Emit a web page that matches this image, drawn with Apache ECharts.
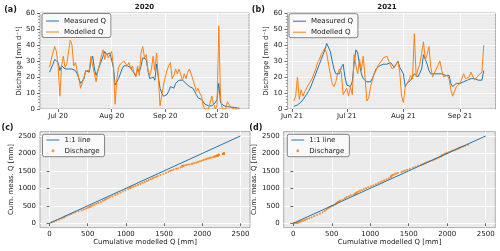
<!DOCTYPE html>
<html><head><meta charset="utf-8">
<script src="https://cdn.jsdelivr.net/npm/echarts@6/dist/echarts.min.js"></script>
<style>html,body{margin:0;padding:0;background:#fff}#c{width:500px;height:251px}</style>
</head><body><div id="c"></div>
<script>
// ---------- data ----------
const start2020 = '2020-06-26';
const measured2020 = [23,22,28,31,31,29,24,27,28,25, 25,25,26,25,26,24,22,19,16,15, 19,24,24,23,30,33,25,21,24,27, 30,33,36,34,35,35,34,26,15,16, 19,22,25,27,27,27,28,26,24,23, 21,25,23,27,32,33,31,24,19,18, 20,18,28,20,13,10,8,8,9,11, 14,14,13,16,17,18,17,18,17,16, 15,14,13,13,11,9,7,7,6,5, 3,2,2,2,2,2,4,6,16,4, 3,2,2,1.5,1.5,1.2,1,1,0.8,0.6,0.5];
const modelled2020 = [26,31,30,39,36,27,8,27,33,26, 28,27,43,40,27,29,24,19,13,14, 20,24,25,24,33,27,22,17,24,28, 33,37,31,35,32,33,36,26,3,19, 26,28,29,30,29,27,29,25,27,22, 20,27,21,35,39,32,34,24,21,25, 33,24,35,20,2,2,15,20,24,27, 29,19,21,25,22,25,25,18,22,19, 23,25,22,21,15,11,13,10,8,2, 0,0,0,0,8,3,0,2,52,7, 0,0,0,4.5,3.5,1,0,0,0,0,0];
const start2021 = '2021-06-02';
const measured2021 = [1.7,2,2.5,3.5,4.5,5.8,7.5,9,11,13, 16,19,22,25,28,31,34,37,41,42, 36,30,25,22,21,22,26,28,20,15, 14,14,17,28,37,35,28,22,19,19, 17,16,17,19,22,25,26,27,28,28, 28,28,28,29,28,26,28,30,26,27, 22,14,16,17,18,20,22,21,20,21, 25,34,31,28,24,22,22,22,22,22, 22,22,21,21,22,21,16,14,14,16, 16,16,17,17,18,18,19,19,19,19, 19,18,18,18,24];
const modelled2021 = [5,8,20,6,12,8,11,10,15,17, 19,22,25,29,31,34,36,38,35,28, 22,16,14,17,22,25,23,9,8,13, 8,14,9,34,27,22,31,24,33,20, 5,7,14,18,22,24,27,28,30,32, 33,33,30,27,25,26,28,30,23,8, 4,14,13,18,21,19,47,20,25,28, 35,42,31,34,39,26,20,20,25,26, 30,24,20,21,21,19,12,8,9,14, 15,16,17,22,19,20,20,23,23,18, 17,21,22,23,40];
const monthTicks2020 = ['2020-07-01','2020-08-01','2020-09-01','2020-10-01'];
const monthTicks2021 = ['2021-06-01','2021-07-01','2021-08-01','2021-09-01'];
const qTicks = [0,10,20,30,40,50,60];
const cumTicks = [0,500,1000,1500,2000,2500];
const oneToOne = [0, 2500];
const seriesNames = ['Measured Q','Modelled Q','1:1 line','Discharge'];
const panelTitles = ['2020','2021'];
const panelLabels = ['(a)','(b)','(c)','(d)'];

// ---------- helpers ----------
const DAY = 86400000;
const FONT = 'DejaVu Sans';
const TXT = '#1a1a1a';
const BLUE = '#1f77b4', ORANGE = '#ff7f0e';
const MON = ['Jan','Feb','Mar','Apr','May','Jun','Jul','Aug','Sep','Oct','Nov','Dec'];
function ts(s){ return Date.parse(s + 'T00:00:00Z'); }
function daily(start, vals){ const t0 = ts(start); return vals.map((v,i)=>[t0 + i*DAY, v]); }
function cumulative(mod, meas){ let a=0,b=0; return mod.map((v,i)=>{ a+=v; b+=meas[i]; return [a,b]; }); }
function fmtMonth(v){ const d=new Date(v); return MON[d.getUTCMonth()] + ' ' + String(d.getUTCFullYear()).slice(2); }
function fmtPlain(v){ return String(Math.round(v)); }

const LINE_ICON = 'path://M0,0M13,3M0,1L13,1L13,2L0,2Z';
const DOT_ICON = 'path://M0,0M13,3M5,1.5A1.5,1.5,0,1,0,8,1.5A1.5,1.5,0,1,0,5,1.5Z';

const grids = [
  {left:40, top:13, width:209, height:96},
  {left:287.5, top:13, width:208, height:96},
  {left:40, top:131.6, width:210, height:96},
  {left:283.7, top:131.6, width:211.6, height:96}
].map(g => Object.assign(g, {show:true, backgroundColor:'#EBEBEB', borderColor:'#9a9a9a', borderWidth:0.8, containLabel:false}));

const tickStyle = {show:true, length:3, lineStyle:{color:'#444', width:0.8}};
const labelStyle = {fontSize:7, color:TXT, fontFamily:FONT};
const split = {show:true, lineStyle:{color:'#ffffff', width:1}};

function timeAxis(gi, ticks, minV, maxV){
  return {type:'value', gridIndex:gi, min: minV, max: maxV, scale:true,
    axisLine:{show:false},
    axisTick:Object.assign({}, tickStyle, {customValues: ticks.map(ts)}),
    axisLabel:Object.assign({}, labelStyle, {customValues: ticks.map(ts), formatter: fmtMonth, margin:4}),
    splitLine: split};
}
function qAxis(gi, gap){
  return {type:'value', gridIndex:gi, min:qTicks[0], max:qTicks[qTicks.length-1], interval:10,
    name:'Discharge [mm d⁻¹]', nameLocation:'middle', nameGap:gap,
    nameTextStyle:{fontSize:7, color:TXT, fontFamily:FONT},
    axisLine:{show:false}, axisTick:tickStyle,
    axisLabel:Object.assign({}, labelStyle, {margin:5, formatter: fmtPlain}),
    splitLine: split,
    minorTick:{show:true, splitNumber:5, length:1.8, lineStyle:{color:'#555', width:0.6}},
    minorSplitLine:{show:true, lineStyle:{color:'#f3f3f3', width:0.5}}};
}
function cumAxis(gi, isX, gap){
  return {type:'value', gridIndex:gi, min:-125, max:2625,
    axisLine:{show:false},
    axisTick:Object.assign({}, tickStyle, {customValues: cumTicks}),
    axisLabel:Object.assign({}, labelStyle, {customValues: cumTicks, margin: isX ? 3 : 4, formatter: fmtPlain}),
    splitLine: split,
    name: isX ? 'Cumulative modelled Q [mm]' : 'Cum. meas. Q [mm]',
    nameLocation:'middle', nameGap:gap,
    nameTextStyle:{fontSize:7, color:TXT, fontFamily:FONT}};
}

function legend(left, top, names, icons, pad, gap){
  return {orient:'vertical', left:left, top:top,
    data: names.map((n,i)=>({name:n, icon:icons[i]})),
    itemWidth:13, itemHeight:3, itemGap:gap, padding:pad,
    textStyle:{fontSize:7, color:TXT, fontFamily:FONT, lineHeight:8},
    backgroundColor:'rgba(250,250,250,0.92)', borderColor:'#666', borderWidth:0.8, borderRadius:2,
    selectedMode:false};
}

function lineSeries(name, xi, data, color){
  return {type:'line', name:name, xAxisIndex:xi, yAxisIndex:xi, data:data,
    symbol:'none', showSymbol:false, lineStyle:{width:1, color:color}, itemStyle:{color:color},
    animation:false, silent:true};
}
function scatterSeries(xi, data){
  return {type:'scatter', name:seriesNames[3], xAxisIndex:xi, yAxisIndex:xi, data:data,
    symbol:'circle', symbolSize:2.2, itemStyle:{color:ORANGE}, animation:false, silent:true};
}

const txt = (x,y,text,size,bold)=>({type:'text', x:x, y:y, silent:true,
  style:{text:text, x:0, y:0, align:'center', verticalAlign:'middle', fill:TXT, font:(bold?'bold ':'')+size+'px "'+FONT+'"'}});

const option = {
  animation:false,
  backgroundColor:'#ffffff',
  grid: grids,
  xAxis: [
    timeAxis(0, monthTicks2020, ts('2020-06-20') + DAY/2, ts('2020-10-19') + DAY/2),
    timeAxis(1, monthTicks2021, ts('2021-05-29') + DAY*0.54, ts('2021-09-20') + DAY*0.44),
    cumAxis(2, true, 10),
    cumAxis(3, true, 10)
  ],
  yAxis: [ qAxis(0, 14), qAxis(1, 17), cumAxis(2, false, 22.5), cumAxis(3, false, 22.5) ],
  legend: [
    legend(42, 13.5, [seriesNames[0], seriesNames[1]], [LINE_ICON, LINE_ICON], [3.5,5,1.5,4], 3),
    legend(289, 13.7, [seriesNames[0], seriesNames[1]], [LINE_ICON, LINE_ICON], [3.5,5,1.5,4], 3),
    legend(42.5, 134.3, [seriesNames[2], seriesNames[3]], [LINE_ICON, DOT_ICON], [1.7,5,2,4], 2.7),
    legend(287.3, 134.3, [seriesNames[2], seriesNames[3]], [LINE_ICON, DOT_ICON], [1.7,5,2,4], 2.7)
  ],
  series: [
    lineSeries(seriesNames[0], 0, daily(start2020, measured2020), BLUE),
    lineSeries(seriesNames[1], 0, daily(start2020, modelled2020), ORANGE),
    lineSeries(seriesNames[0], 1, daily(start2021, measured2021), BLUE),
    lineSeries(seriesNames[1], 1, daily(start2021, modelled2021), ORANGE),
    lineSeries(seriesNames[2], 2, [[oneToOne[0],oneToOne[0]],[oneToOne[1],oneToOne[1]]], BLUE),
    scatterSeries(2, cumulative(modelled2020, measured2020)),
    lineSeries(seriesNames[2], 3, [[oneToOne[0],oneToOne[0]],[oneToOne[1],oneToOne[1]]], BLUE),
    scatterSeries(3, cumulative(modelled2021, measured2021))
  ],
  graphic: [
    txt(144.5, 7, panelTitles[0], 7, true),
    txt(387, 7, panelTitles[1], 7, true),
    txt(10.5, 10, panelLabels[0], 8, true),
    txt(258.3, 10, panelLabels[1], 8, true),
    txt(7.5, 127.5, panelLabels[2], 8, true),
    txt(255.8, 127.5, panelLabels[3], 8, true)
  ]
};
const chart = echarts.init(document.getElementById('c'), null, {renderer:'canvas', width:500, height:251});
chart.setOption(option);
</script></body></html>
